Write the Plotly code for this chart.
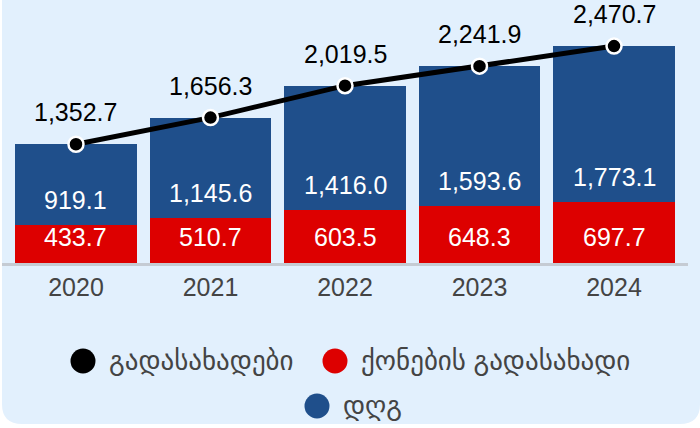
import plotly.graph_objects as go

years = ["2020", "2021", "2022", "2023", "2024"]
property_tax = [433.7, 510.7, 603.5, 648.3, 697.7]
vat = [919.1, 1145.6, 1416.0, 1593.6, 1773.1]
taxes_total = [1352.7, 1656.3, 2019.5, 2241.9, 2470.7]

name_total = "გადასახადები"
name_property = "ქონების გადასახადი"
name_vat = "დღგ"

blue = "#1f4f8b"
red = "#dd0000"
bg = "#e2f0fd"
font = "Liberation Sans, Arial, DejaVu Sans, sans-serif"

W, H = 700, 428
L, R, T, B = 2, 12, 10, 165
pw, ph = W - L - R, H - T - B


def px(x):
    return (x - L) / pw


def py(y):
    return (H - B - y) / ph


fig = go.Figure()
fig.add_trace(go.Bar(x=years, y=property_tax, marker=dict(color=red, line=dict(width=0)), name=name_property))
fig.add_trace(go.Bar(x=years, y=vat, marker=dict(color=blue, line=dict(width=0)), name=name_vat))
fig.add_trace(go.Scatter(x=years, y=taxes_total, mode="lines+markers", name=name_total,
                         line=dict(color="black", width=5),
                         marker=dict(size=15, color="black", line=dict(color="white", width=2.5))))

# value labels (category index on x)
for i in range(len(years)):
    fig.add_annotation(x=i, y=taxes_total[i], text=f"{taxes_total[i]:,.1f}", showarrow=False,
                       yshift=32, font=dict(size=25, color="black", family=font))
    fig.add_annotation(x=i, y=property_tax[i], text=f"{vat[i]:,.1f}", showarrow=False,
                       yshift=25, font=dict(size=25, color="white", family=font))
    fig.add_annotation(x=i, y=0, text=f"{property_tax[i]:,.1f}", showarrow=False,
                       yshift=26, font=dict(size=25, color="white", family=font))

# panel background with rounded bottom corners
x0, x1, y0, y1, r = 2, 700, 0, 424, 20
path = (f"M {px(x0)},{py(y0)} L {px(x1)},{py(y0)} L {px(x1)},{py(y1 - r)} "
        f"Q {px(x1)},{py(y1)} {px(x1 - r)},{py(y1)} L {px(x0 + r)},{py(y1)} "
        f"Q {px(x0)},{py(y1)} {px(x0)},{py(y1 - r)} Z")
fig.add_shape(type="path", path=path, xref="paper", yref="paper",
              fillcolor=bg, line=dict(width=0), layer="below")

# legend drawn by hand so that rows are centred
legend_items = [(name_total, "black", 83, 361), (name_property, red, 335, 361), (name_vat, blue, 317, 406)]
for label, color, cx, cy in legend_items:
    fig.add_shape(type="circle", xref="paper", yref="paper", xsizemode="pixel", ysizemode="pixel",
                  xanchor=px(cx), yanchor=py(cy), x0=-12.5, x1=12.5, y0=-12.5, y1=12.5,
                  fillcolor=color, line=dict(width=0))
    fig.add_annotation(x=px(cx + 24), y=py(cy), xref="paper", yref="paper", text=label,
                       showarrow=False, xanchor="left", yanchor="middle",
                       font=dict(size=27, color="#444444", family=font))

fig.update_layout(
    width=W, height=H,
    margin=dict(l=L, r=R, t=T, b=B),
    paper_bgcolor="white", plot_bgcolor="rgba(0,0,0,0)",
    barmode="stack", bargap=0.1,
    showlegend=False,
    font=dict(family=font),
)
fig.update_xaxes(type="category", range=[-0.55, 4.55], showline=True, linecolor="#c5cbd3", linewidth=3,
                 ticks="", tickfont=dict(size=25, color="#444444"), showgrid=False)
fig.update_yaxes(range=[0, ph / 0.0878], visible=False)

fig.write_html("out.html", config={"displayModeBar": False},
               post_script="document.body.style.margin='0';")
